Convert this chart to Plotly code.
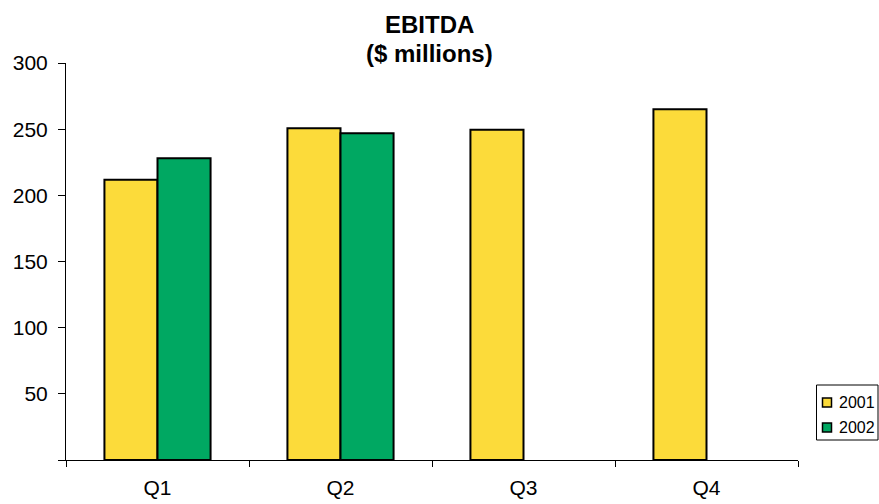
import plotly.graph_objects as go

quarters = ["Q1", "Q2", "Q3", "Q4"]
series_names = ["2001", "2002"]
ebitda_2001 = [211.7, 250.6, 249.5, 265.0]
ebitda_2002 = [228.0, 247.0, None, None]
y_ticks = [0, 50, 100, 150, 200, 250, 300]
y_tick_text = ["", "50", "100", "150", "200", "250", "300"]

FONT = "Liberation Sans, Arial, sans-serif"
COLORS = ["#FCDB3A", "#00A862"]

W, H = 879, 504
L, R, T, B = 66, 81, 63, 44
PLOT_W, PLOT_H = W - L - R, H - T - B


def px_x(x):
    """Pixel column -> paper x."""
    return (x - L) / PLOT_W


def px_y(y):
    """Pixel row -> paper y."""
    return (H - B - y) / PLOT_H


fig = go.Figure()
for name, values, color in zip(series_names, [ebitda_2001, ebitda_2002], COLORS):
    fig.add_trace(go.Bar(
        name=name, x=quarters, y=values,
        marker=dict(color=color, line=dict(color="black", width=2)),
        showlegend=False,
    ))

# Title, two bold lines
title_lines = [("EBITDA", 25), ("($ millions)", 53)]
annotations = [
    dict(text=f"<b>{txt}</b>", x=px_x(429), y=px_y(yy), xref="paper", yref="paper",
         xanchor="center", yanchor="middle", showarrow=False,
         font=dict(size=24, family=FONT, color="black"))
    for txt, yy in title_lines
]

# Boxed legend in the lower right
shapes = [dict(type="rect", xref="paper", yref="paper",
               x0=px_x(816.5), x1=px_x(878), y0=px_y(440), y1=px_y(385),
               line=dict(color="black", width=1), fillcolor="white", layer="above")]
for i, (name, color) in enumerate(zip(series_names, COLORS)):
    cy = 402.5 + 25 * i
    shapes.append(dict(type="rect", xref="paper", yref="paper",
                       x0=px_x(822.5), x1=px_x(831.5), y0=px_y(cy + 4.5), y1=px_y(cy - 4.5),
                       line=dict(color="black", width=1.5), fillcolor=color, layer="above"))
    annotations.append(dict(text=name, x=px_x(837), y=px_y(cy), xref="paper", yref="paper",
                            xanchor="left", yanchor="middle", showarrow=False,
                            font=dict(size=16, family=FONT, color="black")))

fig.update_layout(
    width=W, height=H,
    margin=dict(l=L, r=R, t=T, b=B, autoexpand=False),
    paper_bgcolor="white", plot_bgcolor="white",
    barmode="group", bargap=0.42, bargroupgap=0,
    font=dict(family=FONT, color="black", size=21),
    showlegend=False,
    annotations=annotations,
    shapes=shapes,
)

fig.update_xaxes(
    showline=True, linecolor="black", linewidth=1,
    ticks="outside", tickson="boundaries", ticklen=6, tickcolor="black",
    ticklabelstandoff=9, showgrid=False,
)
fig.update_yaxes(
    range=[0, 300], tickvals=y_ticks, ticktext=y_tick_text,
    showline=True, linecolor="black", linewidth=1,
    ticks="outside", ticklen=7, tickcolor="black",
    ticklabelstandoff=6, showgrid=False, zeroline=False,
)

fig.write_html("out.html")
